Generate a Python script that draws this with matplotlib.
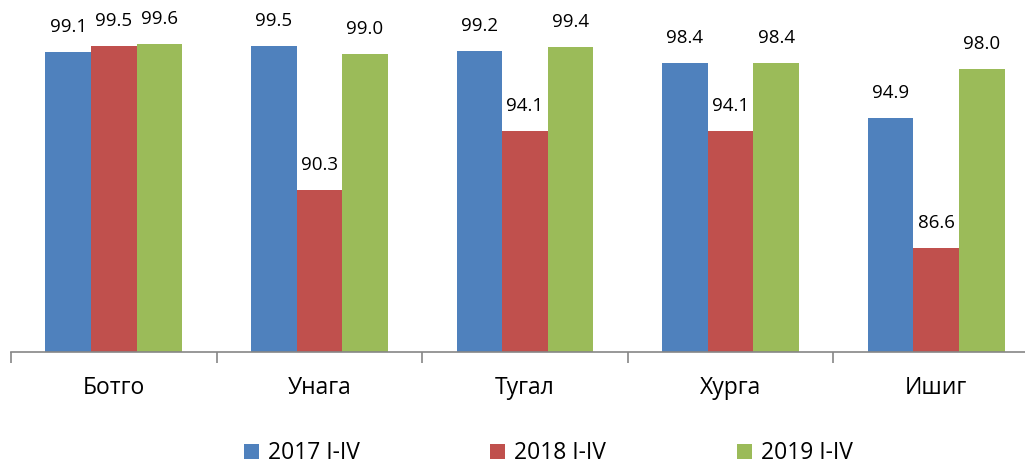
import numpy as np
import matplotlib.pyplot as plt

categories = ["Ботго", "Унага", "Тугал", "Хурга", "Ишиг"]
series_names = ["2017 I-IV", "2018 I-IV", "2019 I-IV"]
v2017 = [99.1, 99.5, 99.2, 98.4, 94.9]
v2018 = [99.5, 90.3, 94.1, 94.1, 86.6]
v2019 = [99.6, 99.0, 99.4, 98.4, 98.0]
colors = ["#4F81BD", "#C0504D", "#9BBB59"]

plt.rcParams['font.family'] = ['Open Sans', 'DejaVu Sans']

fig = plt.figure(figsize=(10.25, 4.65), dpi=100)
# the category axis runs past the right edge of the picture, as in the original
ax = fig.add_axes([11 / 1025, 113 / 465, 1028 / 1025, (352 - 38) / 465])

x = np.arange(len(categories))
w = 0.222
for i, (vals, name, c) in enumerate(zip([v2017, v2018, v2019], series_names, colors)):
    pos = x + (i - 1) * w
    ax.bar(pos, vals, width=w, color=c, label=name, zorder=2)
    for p, v in zip(pos, vals):
        ax.annotate(f"{v:.1f}", (p, v), xytext=(0, 18), textcoords="offset points",
                    ha="center", va="center", fontsize=13.5)

ax.set_ylim(80, 100)
ax.set_xlim(-0.5, len(categories) - 0.5)
ax.set_yticks([])
for s in ["top", "right", "left"]:
    ax.spines[s].set_visible(False)
ax.spines["bottom"].set_color("#868686")
ax.spines["bottom"].set_linewidth(1.2)

ax.set_xticks(np.arange(-0.5, len(categories)), labels=[""] * (len(categories) + 1))
ax.tick_params(axis="x", which="major", length=8, color="#868686", width=1.2)
ax.set_xticks(x, labels=categories, minor=True)
ax.tick_params(axis="x", which="minor", length=0, pad=17, labelsize=16.5)

fig.legend(loc="lower center", bbox_to_anchor=(0.535, -0.045), ncol=3, frameon=False,
           fontsize=16.5, handlelength=0.65, handleheight=0.65, handletextpad=0.4,
           columnspacing=5.7)

fig.savefig("out.png", dpi=100)
